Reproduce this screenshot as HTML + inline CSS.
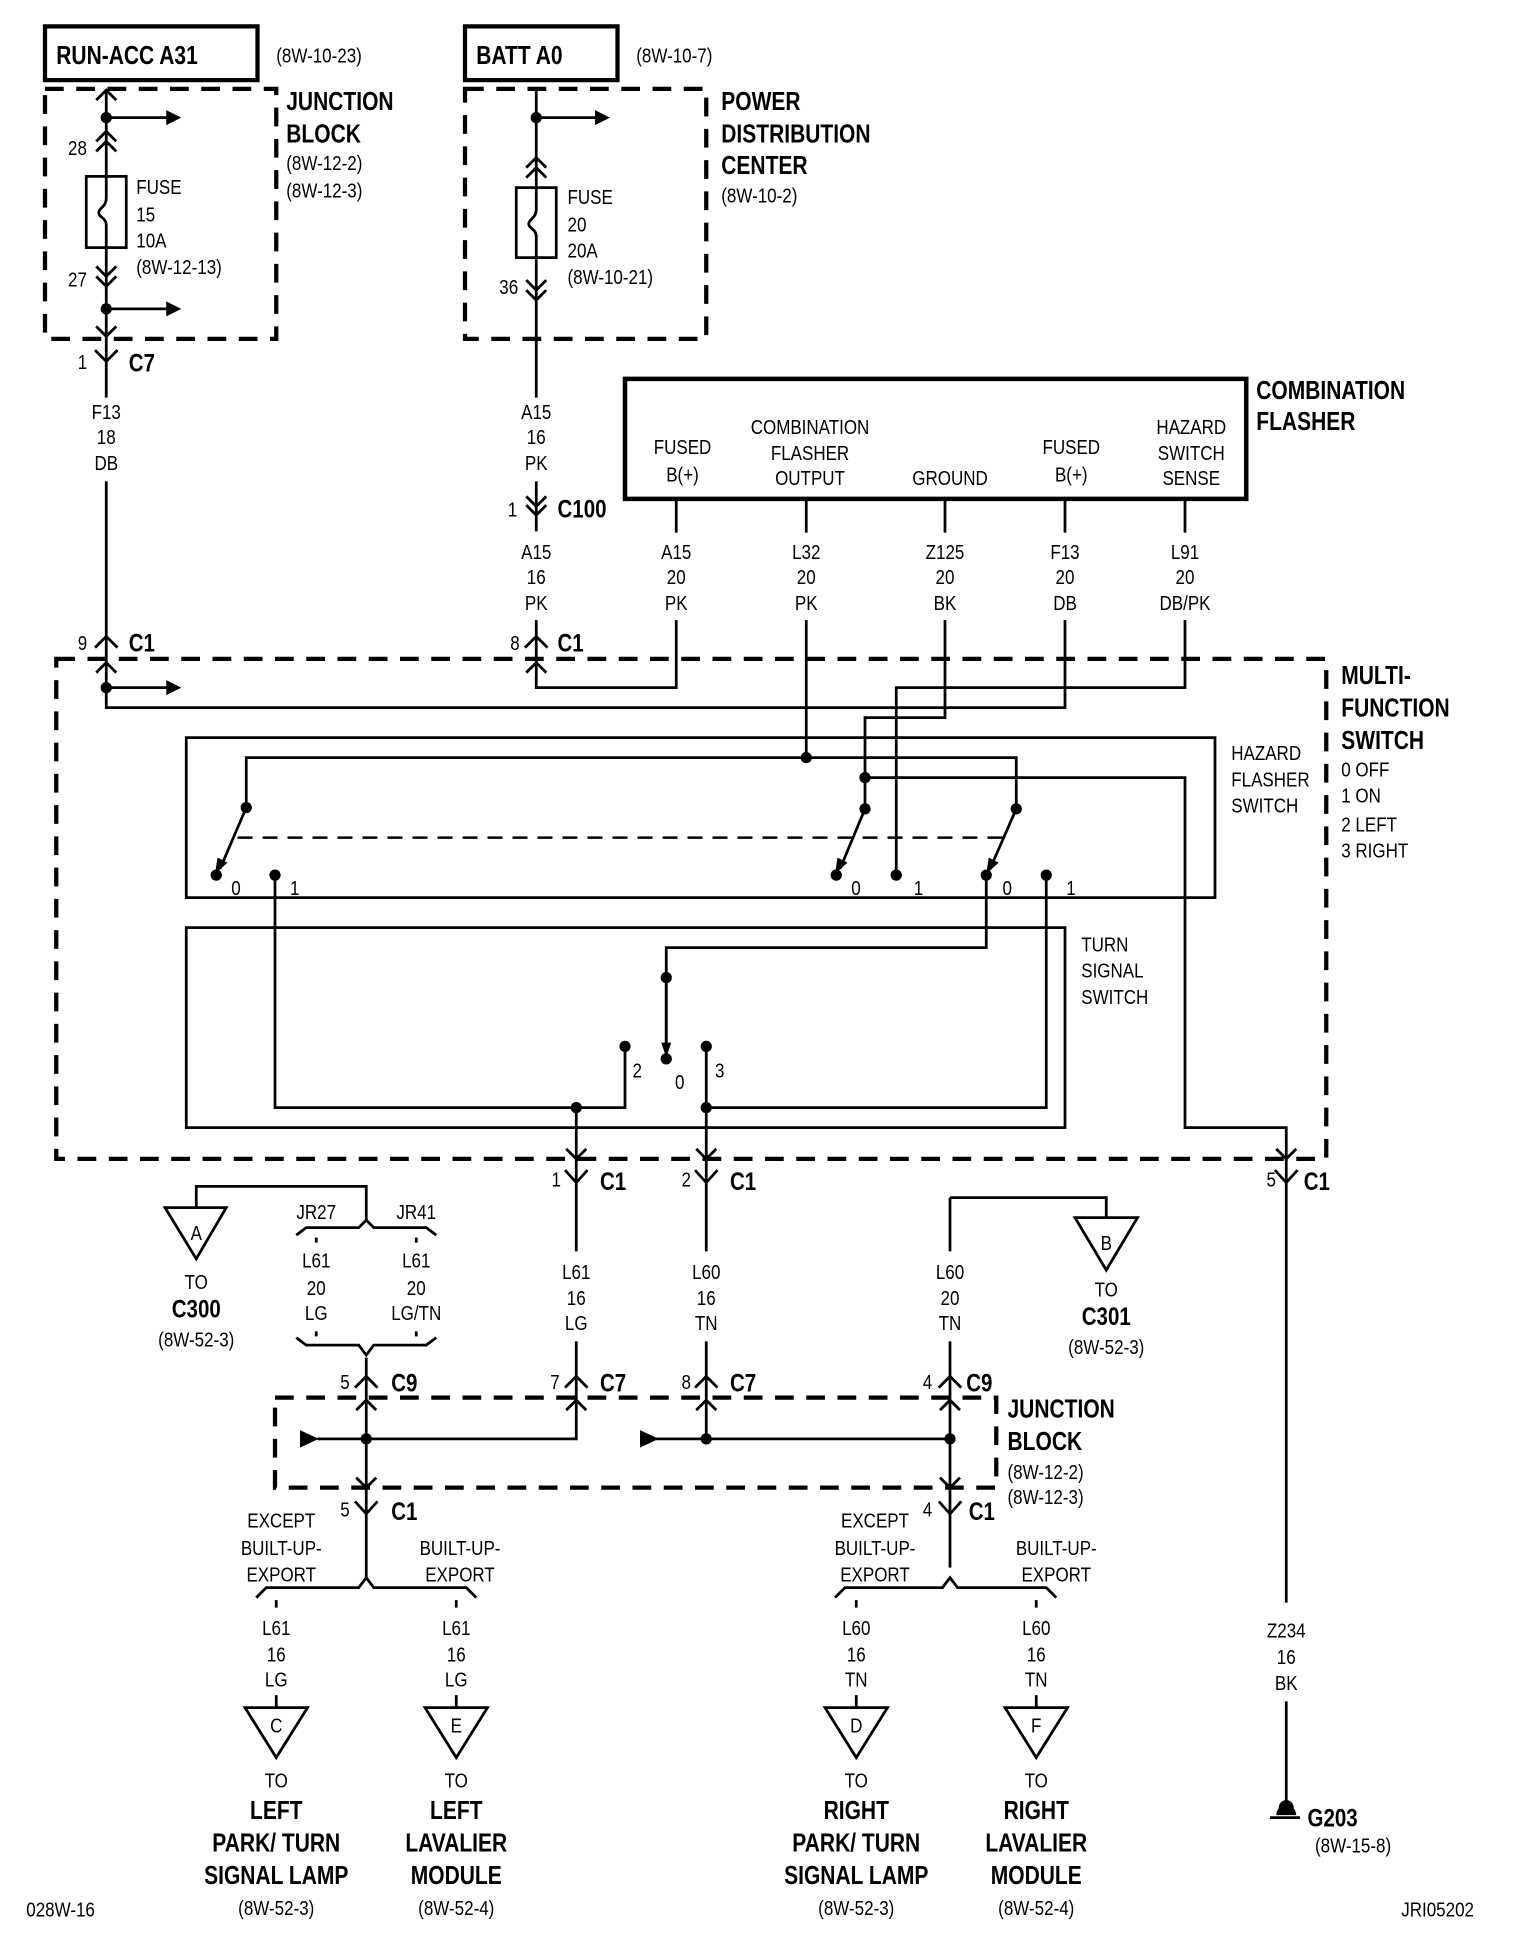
<!DOCTYPE html>
<html><head><meta charset="utf-8"><style>
html,body{margin:0;padding:0;background:#fff}
svg{display:block}
text{fill:#000;font-family:"Liberation Sans",sans-serif}
.s{font-size:16px}
.t{font-size:16px}
.b{font-size:21px;font-weight:bold}
.c{font-size:20px;font-weight:bold}
.m{text-anchor:middle}
.w{fill:none;stroke:#000;stroke-width:2.2}
.d{fill:none;stroke:#000;stroke-width:3.4;stroke-dasharray:15 10}
.dt{fill:none;stroke:#000;stroke-width:2;stroke-dasharray:12 8}
</style></head><body>
<svg width="1520" height="1944" viewBox="0 0 1216 1555" xmlns="http://www.w3.org/2000/svg">
<rect width="1216" height="1555" fill="#fff"/>
<rect x="36" y="21" width="170" height="43" fill="none" stroke="#000" stroke-width="3.4"/>
<rect x="372" y="21" width="122" height="43" fill="none" stroke="#000" stroke-width="3.4"/>
<text class="b" transform="translate(45,51) scale(.8,1)">RUN-ACC A31</text>
<text class="s" transform="translate(221,50) scale(.85,1)">(8W-10-23)</text>
<text class="b" transform="translate(381,51) scale(.8,1)">BATT A0</text>
<text class="s" transform="translate(509,50) scale(.85,1)">(8W-10-7)</text>
<rect x="36" y="71" width="185" height="200" class="d"/>
<text class="b" transform="translate(229,88) scale(.8,1)">JUNCTION</text>
<text class="b" transform="translate(229,114) scale(.8,1)">BLOCK</text>
<text class="s" transform="translate(229,136) scale(.85,1)">(8W-12-2)</text>
<text class="s" transform="translate(229,158) scale(.85,1)">(8W-12-3)</text>
<path class="w" d="M85,71V141M85,198V318M77,80L85,72L93,80M85,94H135M77,113L85,105L93,113M77,121L85,113L93,121M77,213L85,221L93,213M77,221L85,229L93,221M85,247H135M77,261L85,269L93,261M76,280L85,289L94,280"/>
<path d="M133,88L145,94L133,100Z M133,241L145,247L133,253Z"/>
<circle cx="85" cy="94" r="4.5"/><circle cx="85" cy="247" r="4.5"/>
<rect x="69" y="141" width="32" height="57" class="w"/>
<path class="w" d="M85,141V158C85,166 79,166 79,170C79,174 85,174 85,180V198"/>
<text class="s m" transform="translate(62,124) scale(.85,1)">28</text>
<text class="s m" transform="translate(62,229) scale(.85,1)">27</text>
<text class="s" transform="translate(109,155) scale(.85,1)">FUSE</text>
<text class="s" transform="translate(109,177) scale(.85,1)">15</text>
<text class="s" transform="translate(109,198) scale(.85,1)">10A</text>
<text class="s" transform="translate(109,219) scale(.85,1)">(8W-12-13)</text>
<text class="s m" transform="translate(66,295) scale(.85,1)">1</text>
<text class="c" transform="translate(103,297) scale(.82,1)">C7</text>
<rect x="372" y="71" width="193" height="200" class="d"/>
<text class="b" transform="translate(577,88) scale(.8,1)">POWER</text>
<text class="b" transform="translate(577,114) scale(.8,1)">DISTRIBUTION</text>
<text class="b" transform="translate(577,139) scale(.8,1)">CENTER</text>
<text class="s" transform="translate(577,162) scale(.85,1)">(8W-10-2)</text>
<path class="w" d="M429,71V150M429,206V318M429,94H478M421,134L429,126L437,134M421,142L429,134L437,142M421,224L429,232L437,224M421,232L429,240L437,232"/>
<path d="M476,88L488,94L476,100Z"/>
<circle cx="429" cy="94" r="4.5"/>
<rect x="413" y="150" width="32" height="56" class="w"/>
<path class="w" d="M429,150V167C429,175 423,175 423,179C423,183 429,183 429,189V206"/>
<text class="s" transform="translate(454,163) scale(.85,1)">FUSE</text>
<text class="s" transform="translate(454,185) scale(.85,1)">20</text>
<text class="s" transform="translate(454,206) scale(.85,1)">20A</text>
<text class="s" transform="translate(454,227) scale(.85,1)">(8W-10-21)</text>
<text class="s m" transform="translate(407,235) scale(.85,1)">36</text>
<text class="s m" transform="translate(85,335) scale(.85,1)">F13</text>
<text class="s m" transform="translate(85,355) scale(.85,1)">18</text>
<text class="s m" transform="translate(85,376) scale(.85,1)">DB</text>
<text class="s m" transform="translate(429,335) scale(.85,1)">A15</text>
<text class="s m" transform="translate(429,355) scale(.85,1)">16</text>
<text class="s m" transform="translate(429,376) scale(.85,1)">PK</text>
<path class="w" d="M85,385V530M429,385V425M421,397L429,405L437,397M421,404L429,412L437,404M429,496V530"/>
<text class="s m" transform="translate(410,413) scale(.85,1)">1</text>
<text class="c" transform="translate(446,414) scale(.82,1)">C100</text>
<text class="s m" transform="translate(429,447) scale(.85,1)">A15</text>
<text class="s m" transform="translate(429,467) scale(.85,1)">16</text>
<text class="s m" transform="translate(429,488) scale(.85,1)">PK</text>
<rect x="500" y="303" width="497" height="96" fill="none" stroke="#000" stroke-width="3.6"/>
<text class="b" transform="translate(1005,319) scale(.8,1)">COMBINATION</text>
<text class="b" transform="translate(1005,344) scale(.8,1)">FLASHER</text>
<text class="s m" transform="translate(546,363) scale(.85,1)">FUSED</text>
<text class="s m" transform="translate(546,385) scale(.85,1)">B(+)</text>
<text class="s m" transform="translate(648,347) scale(.85,1)">COMBINATION</text>
<text class="s m" transform="translate(648,368) scale(.85,1)">FLASHER</text>
<text class="s m" transform="translate(648,388) scale(.85,1)">OUTPUT</text>
<text class="s m" transform="translate(760,388) scale(.85,1)">GROUND</text>
<text class="s m" transform="translate(857,363) scale(.85,1)">FUSED</text>
<text class="s m" transform="translate(857,385) scale(.85,1)">B(+)</text>
<text class="s m" transform="translate(953,347) scale(.85,1)">HAZARD</text>
<text class="s m" transform="translate(953,368) scale(.85,1)">SWITCH</text>
<text class="s m" transform="translate(953,388) scale(.85,1)">SENSE</text>
<path class="w" d="M541,399V426M645,399V426M756,399V426M852,399V426M948,399V426"/>
<g class="s m">
<text transform="translate(541,447) scale(.85,1)">A15</text><text transform="translate(541,467) scale(.85,1)">20</text><text transform="translate(541,488) scale(.85,1)">PK</text>
<text transform="translate(645,447) scale(.85,1)">L32</text><text transform="translate(645,467) scale(.85,1)">20</text><text transform="translate(645,488) scale(.85,1)">PK</text>
<text transform="translate(756,447) scale(.85,1)">Z125</text><text transform="translate(756,467) scale(.85,1)">20</text><text transform="translate(756,488) scale(.85,1)">BK</text>
<text transform="translate(852,447) scale(.85,1)">F13</text><text transform="translate(852,467) scale(.85,1)">20</text><text transform="translate(852,488) scale(.85,1)">DB</text>
<text transform="translate(948,447) scale(.85,1)">L91</text><text transform="translate(948,467) scale(.85,1)">20</text><text transform="translate(948,488) scale(.85,1)">DB/PK</text>
</g>
<path class="w" d="M76,518L85,509L94,518M420,518L429,509L438,518"/>
<text class="s m" transform="translate(66,520) scale(.85,1)">9</text>
<text class="c" transform="translate(103,521) scale(.82,1)">C1</text>
<text class="s m" transform="translate(412,520) scale(.85,1)">8</text>
<text class="c" transform="translate(446,521) scale(.82,1)">C1</text>
<rect x="45" y="527" width="1016" height="400" class="d"/>
<text class="b" transform="translate(1073,547) scale(.8,1)">MULTI-</text>
<text class="b" transform="translate(1073,573) scale(.8,1)">FUNCTION</text>
<text class="b" transform="translate(1073,599) scale(.8,1)">SWITCH</text>
<text class="s" transform="translate(1073,621) scale(.85,1)">0 OFF</text>
<text class="s" transform="translate(1073,642) scale(.85,1)">1 ON</text>
<text class="s" transform="translate(1073,665) scale(.85,1)">2 LEFT</text>
<text class="s" transform="translate(1073,686) scale(.85,1)">3 RIGHT</text>
<path class="w" d="M77,538L85,530L93,538M421,538L429,530L437,538
M85,530V566H852V496
M85,550H135
M429,530V550H541V496
M948,496V550H717V700
M756,496V574H692V647
M645,496V606
M197,646V606H813V647
M692,622H948V902H1029V927
M220,700V886H500V837
M789,700V758H533V840
M837,700V886H565
M565,837V927
M461,886V927"/>
<path d="M133,544L145,550L133,556Z"/>
<path class="w" d="M1021,919L1029,927L1037,919M453,919L461,927L469,919M557,919L565,927L573,919"/>
<rect x="149" y="590" width="823" height="128" class="w"/>
<rect x="149" y="742" width="703" height="160" class="w"/>
<path class="dt" d="M190,670H810"/>
<path class="w" d="M197,646L176,695M692,647L672,695M813,647L792,695M533,782V842"/>
<path d="M172,699L174,686L182,690Z M668,699L670,686L678,690Z M789,699L791,686L799,690Z M533,846L529,834L537,834Z"/>
<g>
<circle cx="85" cy="550" r="4.5"/>
<circle cx="645" cy="606" r="4.5"/><circle cx="692" cy="622" r="4.5"/>
<circle cx="197" cy="646" r="4.5"/><circle cx="692" cy="647" r="4.5"/><circle cx="813" cy="647" r="4.5"/>
<circle cx="173" cy="700" r="4.5"/><circle cx="220" cy="700" r="4.5"/>
<circle cx="669" cy="700" r="4.5"/><circle cx="717" cy="700" r="4.5"/>
<circle cx="789" cy="700" r="4.5"/><circle cx="837" cy="700" r="4.5"/>
<circle cx="533" cy="782" r="4.5"/><circle cx="533" cy="847" r="4.5"/>
<circle cx="500" cy="837" r="4.5"/><circle cx="565" cy="837" r="4.5"/>
<circle cx="461" cy="886" r="4.5"/><circle cx="565" cy="886" r="4.5"/>
</g>
<g class="t">
<text transform="translate(185,716) scale(.85,1)">0</text><text transform="translate(232,716) scale(.85,1)">1</text>
<text transform="translate(681,716) scale(.85,1)">0</text><text transform="translate(731,716) scale(.85,1)">1</text>
<text transform="translate(802,716) scale(.85,1)">0</text><text transform="translate(853,716) scale(.85,1)">1</text>
<text transform="translate(506,862) scale(.85,1)">2</text><text transform="translate(540,871) scale(.85,1)">0</text><text transform="translate(572,862) scale(.85,1)">3</text>
</g>
<text class="s" transform="translate(985,608) scale(.85,1)">HAZARD</text>
<text class="s" transform="translate(985,629) scale(.85,1)">FLASHER</text>
<text class="s" transform="translate(985,650) scale(.85,1)">SWITCH</text>
<text class="s" transform="translate(865,761) scale(.85,1)">TURN</text>
<text class="s" transform="translate(865,782) scale(.85,1)">SIGNAL</text>
<text class="s" transform="translate(865,803) scale(.85,1)">SWITCH</text>
<path class="w" d="M452,936L461,946L470,936M556,936L565,946L574,936M1020,936L1029,946L1038,936
M461,927V1001M565,927V1001M1029,927V1282M461,1073V1151H293M565,1073V1151M760,958V1001M760,1073V1254M293,1086V1262"/>
<text class="s m" transform="translate(445,949) scale(.85,1)">1</text>
<text class="c" transform="translate(480,952) scale(.82,1)">C1</text>
<text class="s m" transform="translate(549,949) scale(.85,1)">2</text>
<text class="c" transform="translate(584,952) scale(.82,1)">C1</text>
<text class="s m" transform="translate(1017,949) scale(.85,1)">5</text>
<text class="c" transform="translate(1043,952) scale(.82,1)">C1</text>
<g class="s m">
<text transform="translate(461,1023) scale(.85,1)">L61</text><text transform="translate(461,1044) scale(.85,1)">16</text><text transform="translate(461,1064) scale(.85,1)">LG</text>
<text transform="translate(565,1023) scale(.85,1)">L60</text><text transform="translate(565,1044) scale(.85,1)">16</text><text transform="translate(565,1064) scale(.85,1)">TN</text>
<text transform="translate(760,1023) scale(.85,1)">L60</text><text transform="translate(760,1044) scale(.85,1)">20</text><text transform="translate(760,1064) scale(.85,1)">TN</text>
</g>
<path class="w" d="M157,966V949H293V976M132,966H181L157,1007Z"/>
<text class="t m" transform="translate(157,992) scale(.85,1)">A</text>
<text class="s m" transform="translate(157,1031) scale(.85,1)">TO</text>
<text class="c m" transform="translate(157,1054) scale(.82,1)">C300</text>
<text class="s m" transform="translate(157,1077) scale(.85,1)">(8W-52-3)</text>
<path class="w" d="M237,988L245,982H287L293,976L299,982H341L349,988M237,1070L245,1076H287L293,1084L299,1076H341L349,1070M253,990V994M333,990V994M253,1065V1069M333,1065V1069"/>
<text class="s m" transform="translate(253,975) scale(.85,1)">JR27</text>
<text class="s m" transform="translate(333,975) scale(.85,1)">JR41</text>
<g class="s m">
<text transform="translate(253,1014) scale(.85,1)">L61</text><text transform="translate(253,1036) scale(.85,1)">20</text><text transform="translate(253,1056) scale(.85,1)">LG</text>
<text transform="translate(333,1014) scale(.85,1)">L61</text><text transform="translate(333,1036) scale(.85,1)">20</text><text transform="translate(333,1056) scale(.85,1)">LG/TN</text>
</g>
<path class="w" d="M760,958H885V974M860,974H910L885,1016Z"/>
<text class="t m" transform="translate(885,1000) scale(.85,1)">B</text>
<text class="s m" transform="translate(885,1037) scale(.85,1)">TO</text>
<text class="c m" transform="translate(885,1060) scale(.82,1)">C301</text>
<text class="s m" transform="translate(885,1083) scale(.85,1)">(8W-52-3)</text>
<path class="w" d="M284,1110L293,1101L302,1110M452,1110L461,1101L470,1110M556,1110L565,1101L574,1110M751,1110L760,1101L769,1110"/>
<text class="s m" transform="translate(276,1111) scale(.85,1)">5</text><text class="c" transform="translate(313,1113) scale(.82,1)">C9</text>
<text class="s m" transform="translate(444,1111) scale(.85,1)">7</text><text class="c" transform="translate(480,1113) scale(.82,1)">C7</text>
<text class="s m" transform="translate(549,1111) scale(.85,1)">8</text><text class="c" transform="translate(584,1113) scale(.82,1)">C7</text>
<text class="s m" transform="translate(742,1111) scale(.85,1)">4</text><text class="c" transform="translate(773,1113) scale(.82,1)">C9</text>
<rect x="220" y="1118" width="577" height="72" class="d"/>
<text class="b" transform="translate(806,1134) scale(.8,1)">JUNCTION</text>
<text class="b" transform="translate(806,1160) scale(.8,1)">BLOCK</text>
<text class="s" transform="translate(806,1183) scale(.85,1)">(8W-12-2)</text>
<text class="s" transform="translate(806,1203) scale(.85,1)">(8W-12-3)</text>
<path class="w" d="M285,1128L293,1120L301,1128M453,1128L461,1120L469,1128M557,1128L565,1120L573,1128M752,1128L760,1120L768,1128
M285,1182L293,1190L301,1182M752,1182L760,1190L768,1182M254,1151H293M525,1151H760"/>
<path d="M240,1144L255,1151L240,1158Z M512,1144L527,1151L512,1158Z"/>
<circle cx="293" cy="1151" r="4.5"/><circle cx="565" cy="1151" r="4.5"/><circle cx="760" cy="1151" r="4.5"/>
<path class="w" d="M284,1201L293,1211L302,1201M751,1201L760,1211L769,1201"/>
<text class="s m" transform="translate(276,1213) scale(.85,1)">5</text><text class="c" transform="translate(313,1216) scale(.82,1)">C1</text>
<text class="s m" transform="translate(742,1213) scale(.85,1)">4</text><text class="c" transform="translate(775,1216) scale(.82,1)">C1</text>
<path class="w" d="M205,1278L213,1270H287L293,1262L299,1270H373L381,1278M668,1278L676,1270H754L760,1262L766,1270H837L845,1278
M221,1280V1286M365,1280V1286M685,1280V1286M829,1280V1286M221,1356V1366M365,1356V1366M685,1356V1366M829,1356V1366"/>
<g class="s m">
<text transform="translate(225,1222) scale(.85,1)">EXCEPT</text><text transform="translate(225,1244) scale(.85,1)">BUILT-UP-</text><text transform="translate(225,1265) scale(.85,1)">EXPORT</text>
<text transform="translate(368,1244) scale(.85,1)">BUILT-UP-</text><text transform="translate(368,1265) scale(.85,1)">EXPORT</text>
<text transform="translate(700,1222) scale(.85,1)">EXCEPT</text><text transform="translate(700,1244) scale(.85,1)">BUILT-UP-</text><text transform="translate(700,1265) scale(.85,1)">EXPORT</text>
<text transform="translate(845,1244) scale(.85,1)">BUILT-UP-</text><text transform="translate(845,1265) scale(.85,1)">EXPORT</text>
<text transform="translate(221,1308) scale(.85,1)">L61</text><text transform="translate(221,1329) scale(.85,1)">16</text><text transform="translate(221,1349) scale(.85,1)">LG</text>
<text transform="translate(365,1308) scale(.85,1)">L61</text><text transform="translate(365,1329) scale(.85,1)">16</text><text transform="translate(365,1349) scale(.85,1)">LG</text>
<text transform="translate(685,1308) scale(.85,1)">L60</text><text transform="translate(685,1329) scale(.85,1)">16</text><text transform="translate(685,1349) scale(.85,1)">TN</text>
<text transform="translate(829,1308) scale(.85,1)">L60</text><text transform="translate(829,1329) scale(.85,1)">16</text><text transform="translate(829,1349) scale(.85,1)">TN</text>
</g>
<path class="w" d="M196,1366H246L221,1406ZM340,1366H390L365,1406ZM660,1366H710L685,1406ZM804,1366H854L829,1406Z"/>
<g class="t m">
<text transform="translate(221,1386) scale(.85,1)">C</text><text transform="translate(365,1386) scale(.85,1)">E</text>
<text transform="translate(685,1386) scale(.85,1)">D</text><text transform="translate(829,1386) scale(.85,1)">F</text>
</g>
<g class="s m">
<text transform="translate(221,1430) scale(.85,1)">TO</text><text transform="translate(365,1430) scale(.85,1)">TO</text>
<text transform="translate(685,1430) scale(.85,1)">TO</text><text transform="translate(829,1430) scale(.85,1)">TO</text>
<text transform="translate(221,1532) scale(.85,1)">(8W-52-3)</text><text transform="translate(365,1532) scale(.85,1)">(8W-52-4)</text>
<text transform="translate(685,1532) scale(.85,1)">(8W-52-3)</text><text transform="translate(829,1532) scale(.85,1)">(8W-52-4)</text>
</g>
<g class="b m">
<text transform="translate(221,1455) scale(.8,1)">LEFT</text><text transform="translate(221,1481) scale(.8,1)">PARK/ TURN</text><text transform="translate(221,1507) scale(.8,1)">SIGNAL LAMP</text>
<text transform="translate(365,1455) scale(.8,1)">LEFT</text><text transform="translate(365,1481) scale(.8,1)">LAVALIER</text><text transform="translate(365,1507) scale(.8,1)">MODULE</text>
<text transform="translate(685,1455) scale(.8,1)">RIGHT</text><text transform="translate(685,1481) scale(.8,1)">PARK/ TURN</text><text transform="translate(685,1507) scale(.8,1)">SIGNAL LAMP</text>
<text transform="translate(829,1455) scale(.8,1)">RIGHT</text><text transform="translate(829,1481) scale(.8,1)">LAVALIER</text><text transform="translate(829,1507) scale(.8,1)">MODULE</text>
</g>
<g class="s m">
<text transform="translate(1029,1310) scale(.85,1)">Z234</text><text transform="translate(1029,1331) scale(.85,1)">16</text><text transform="translate(1029,1352) scale(.85,1)">BK</text>
</g>
<path class="w" d="M1029,1361V1441M1016,1454H1040"/>
<path d="M1021,1452A8,8 0 0 1 1037,1452Z"/>
<circle cx="1029" cy="1446" r="6"/>
<text class="c" transform="translate(1046,1461) scale(.82,1)">G203</text>
<text class="s" transform="translate(1052,1482) scale(.85,1)">(8W-15-8)</text>
<text class="s" transform="translate(21,1533) scale(.85,1)">028W-16</text>
<text class="s" transform="translate(1121,1533) scale(.85,1)">JRI05202</text>
</svg>
</body></html>
